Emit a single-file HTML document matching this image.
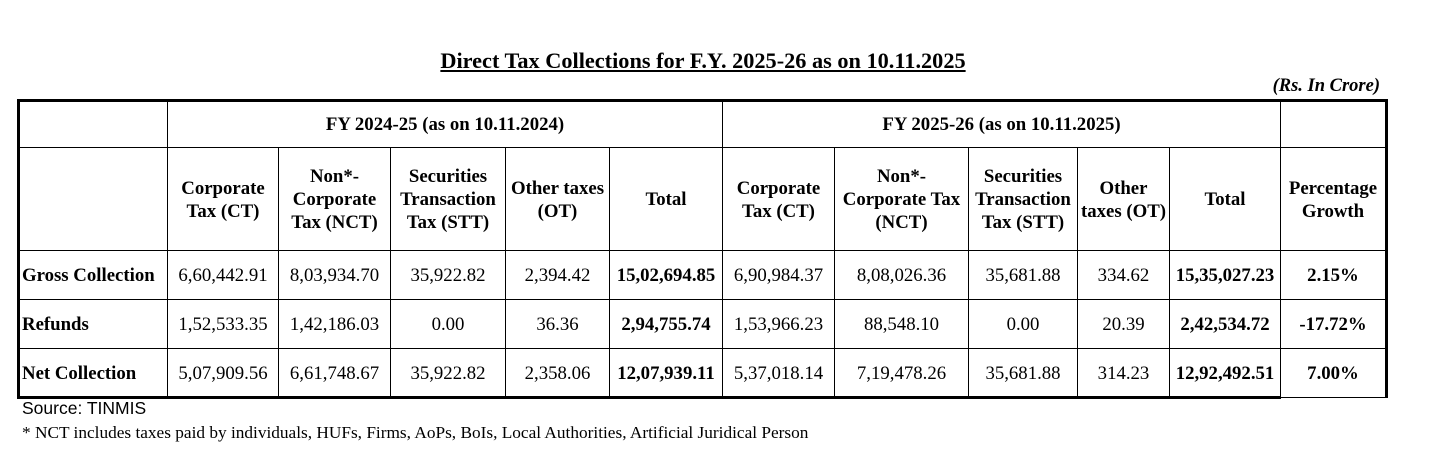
<!DOCTYPE html>
<html><head><meta charset="utf-8"><style>
body{margin:0;width:1435px;height:456px;background:#fff;position:relative;overflow:hidden;font-family:"Liberation Serif",serif;color:#000}
.c{position:absolute;display:flex;align-items:center;justify-content:center;text-align:center;font-size:18.8px;line-height:23px;white-space:nowrap}
.b{font-weight:bold}
.l{position:absolute;background:#000}
.lab{justify-content:flex-start;padding-left:2px;box-sizing:border-box}
</style></head><body>
<div style="position:absolute;left:0;width:1406px;top:48px;text-align:center;font-weight:bold;font-size:22.3px;text-decoration:underline">Direct Tax Collections for F.Y. 2025-26 as on 10.11.2025</div>
<div style="position:absolute;right:55px;top:76px;font-weight:bold;font-style:italic;font-size:18.5px">(Rs. In Crore)</div>

<div class="l" style="left:17px;top:99px;width:1371px;height:3px"></div>
<div class="l" style="left:17px;top:99px;width:3px;height:300px"></div>
<div class="l" style="left:1385px;top:99px;width:3px;height:299px"></div>
<div class="l" style="left:17px;top:396px;width:1264px;height:3px"></div>
<div class="l" style="left:1280px;top:397px;width:107px;height:1px"></div>
<div class="l" style="left:19px;top:147px;width:1368px;height:1px"></div>
<div class="l" style="left:19px;top:250px;width:1368px;height:1px"></div>
<div class="l" style="left:19px;top:299px;width:1368px;height:1px"></div>
<div class="l" style="left:19px;top:348px;width:1368px;height:1px"></div>
<div class="l" style="left:167px;top:100px;width:1px;height:298px"></div>
<div class="l" style="left:722px;top:100px;width:1px;height:298px"></div>
<div class="l" style="left:1280px;top:100px;width:1px;height:298px"></div>
<div class="l" style="left:278px;top:148px;width:1px;height:250px"></div>
<div class="l" style="left:390px;top:148px;width:1px;height:250px"></div>
<div class="l" style="left:505px;top:148px;width:1px;height:250px"></div>
<div class="l" style="left:609px;top:148px;width:1px;height:250px"></div>
<div class="l" style="left:834px;top:148px;width:1px;height:250px"></div>
<div class="l" style="left:968px;top:148px;width:1px;height:250px"></div>
<div class="l" style="left:1077px;top:148px;width:1px;height:250px"></div>
<div class="l" style="left:1169px;top:148px;width:1px;height:250px"></div>

<div class="c b" style="left:168px;top:100px;width:554px;height:48px">FY 2024-25 (as on 10.11.2024)</div>
<div class="c b" style="left:723px;top:100px;width:557px;height:48px">FY 2025-26 (as on 10.11.2025)</div>

<div class="c b" style="left:168px;top:148px;width:110px;height:103px">Corporate<br>Tax (CT)</div>
<div class="c b" style="left:279px;top:148px;width:111px;height:103px">Non*-<br>Corporate<br>Tax (NCT)</div>
<div class="c b" style="left:391px;top:148px;width:114px;height:103px">Securities<br>Transaction<br>Tax (STT)</div>
<div class="c b" style="left:506px;top:148px;width:103px;height:103px">Other taxes<br>(OT)</div>
<div class="c b" style="left:610px;top:148px;width:112px;height:103px">Total</div>
<div class="c b" style="left:723px;top:148px;width:111px;height:103px">Corporate<br>Tax (CT)</div>
<div class="c b" style="left:835px;top:148px;width:133px;height:103px">Non*-<br>Corporate Tax<br>(NCT)</div>
<div class="c b" style="left:969px;top:148px;width:108px;height:103px">Securities<br>Transaction<br>Tax (STT)</div>
<div class="c b" style="left:1078px;top:148px;width:91px;height:103px">Other<br>taxes (OT)</div>
<div class="c b" style="left:1170px;top:148px;width:110px;height:103px">Total</div>
<div class="c b" style="left:1281px;top:148px;width:104px;height:103px">Percentage<br>Growth</div>

<div class="c b lab" style="left:20px;top:251px;width:147px;height:49px">Gross Collection</div>
<div class="c" style="left:168px;top:251px;width:110px;height:49px">6,60,442.91</div>
<div class="c" style="left:279px;top:251px;width:111px;height:49px">8,03,934.70</div>
<div class="c" style="left:391px;top:251px;width:114px;height:49px">35,922.82</div>
<div class="c" style="left:506px;top:251px;width:103px;height:49px">2,394.42</div>
<div class="c b" style="left:610px;top:251px;width:112px;height:49px">15,02,694.85</div>
<div class="c" style="left:723px;top:251px;width:111px;height:49px">6,90,984.37</div>
<div class="c" style="left:835px;top:251px;width:133px;height:49px">8,08,026.36</div>
<div class="c" style="left:969px;top:251px;width:108px;height:49px">35,681.88</div>
<div class="c" style="left:1078px;top:251px;width:91px;height:49px">334.62</div>
<div class="c b" style="left:1170px;top:251px;width:110px;height:49px">15,35,027.23</div>
<div class="c b" style="left:1281px;top:251px;width:104px;height:49px">2.15%</div>

<div class="c b lab" style="left:20px;top:300px;width:147px;height:49px">Refunds</div>
<div class="c" style="left:168px;top:300px;width:110px;height:49px">1,52,533.35</div>
<div class="c" style="left:279px;top:300px;width:111px;height:49px">1,42,186.03</div>
<div class="c" style="left:391px;top:300px;width:114px;height:49px">0.00</div>
<div class="c" style="left:506px;top:300px;width:103px;height:49px">36.36</div>
<div class="c b" style="left:610px;top:300px;width:112px;height:49px">2,94,755.74</div>
<div class="c" style="left:723px;top:300px;width:111px;height:49px">1,53,966.23</div>
<div class="c" style="left:835px;top:300px;width:133px;height:49px">88,548.10</div>
<div class="c" style="left:969px;top:300px;width:108px;height:49px">0.00</div>
<div class="c" style="left:1078px;top:300px;width:91px;height:49px">20.39</div>
<div class="c b" style="left:1170px;top:300px;width:110px;height:49px">2,42,534.72</div>
<div class="c b" style="left:1281px;top:300px;width:104px;height:49px">-17.72%</div>

<div class="c b lab" style="left:20px;top:349px;width:147px;height:48px">Net Collection</div>
<div class="c" style="left:168px;top:349px;width:110px;height:48px">5,07,909.56</div>
<div class="c" style="left:279px;top:349px;width:111px;height:48px">6,61,748.67</div>
<div class="c" style="left:391px;top:349px;width:114px;height:48px">35,922.82</div>
<div class="c" style="left:506px;top:349px;width:103px;height:48px">2,358.06</div>
<div class="c b" style="left:610px;top:349px;width:112px;height:48px">12,07,939.11</div>
<div class="c" style="left:723px;top:349px;width:111px;height:48px">5,37,018.14</div>
<div class="c" style="left:835px;top:349px;width:133px;height:48px">7,19,478.26</div>
<div class="c" style="left:969px;top:349px;width:108px;height:48px">35,681.88</div>
<div class="c" style="left:1078px;top:349px;width:91px;height:48px">314.23</div>
<div class="c b" style="left:1170px;top:349px;width:110px;height:48px">12,92,492.51</div>
<div class="c b" style="left:1281px;top:349px;width:104px;height:48px">7.00%</div>

<div style="position:absolute;left:22px;top:398px;font-family:'Liberation Sans',sans-serif;font-size:17.5px">Source: TINMIS</div>
<div style="position:absolute;left:22px;top:423px;font-size:17.3px">* NCT includes taxes paid by individuals, HUFs, Firms, AoPs, BoIs, Local Authorities, Artificial Juridical Person</div>
</body></html>
